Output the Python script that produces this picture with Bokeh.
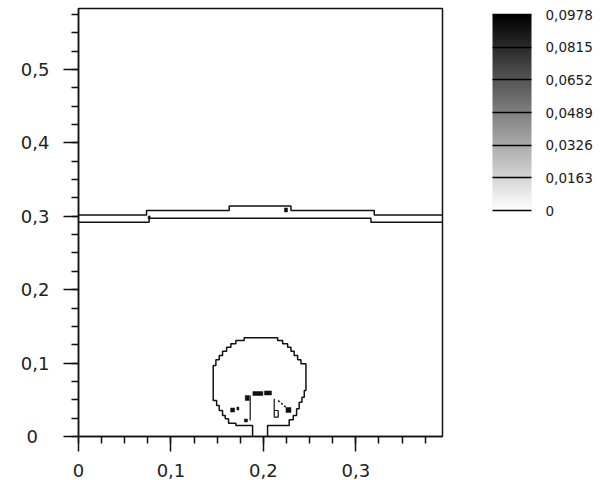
from bokeh.plotting import figure
from bokeh.models import (Range1d, SingleIntervalTicker, FixedTicker,
                          CustomJSTickFormatter, ColorBar, LinearColorMapper)
from bokeh.palettes import Greys256
from bokeh.embed import file_html
from bokeh.resources import INLINE

# colour scale levels (contour values)
levels = [0, 0.0163, 0.0326, 0.0489, 0.0652, 0.0815, 0.0978]

# extent of the computational domain
domain_x = 0.3937
domain_y = 0.583

# contour lines bounding the thin layer near y = 0.3
layer_top_x = [0, 0.0736, 0.0736, 0.1630, 0.1630, 0.2298, 0.2298, 0.3199, 0.3199, 0.3937]
layer_top_y = [0.3018, 0.3018, 0.3079, 0.3079, 0.3140, 0.3140, 0.3079, 0.3079, 0.3018, 0.3018]
layer_bot_x = [0, 0.0764, 0.0764, 0.3163, 0.3163, 0.3937]
layer_bot_y = [0.2920, 0.2920, 0.2974, 0.2974, 0.2920, 0.2920]

# outer contour of the bubble rising from the inlet
bubble = [
    (0.1883, 0.0), (0.1883, 0.0150), (0.1702, 0.0150), (0.1702, 0.0181),
    (0.1623, 0.0181), (0.1623, 0.0241), (0.1587, 0.0241), (0.1587, 0.0286),
    (0.1558, 0.0286), (0.1558, 0.0354), (0.1522, 0.0354), (0.1522, 0.0422),
    (0.1494, 0.0422), (0.1494, 0.0490), (0.1457, 0.0490), (0.1457, 0.0967),
    (0.1486, 0.0967), (0.1486, 0.1045), (0.1522, 0.1045), (0.1522, 0.1104),
    (0.1558, 0.1104), (0.1558, 0.1162), (0.1602, 0.1162), (0.1602, 0.1217),
    (0.1648, 0.1217), (0.1648, 0.1263), (0.1702, 0.1263), (0.1702, 0.1308),
    (0.1792, 0.1308), (0.1792, 0.1345), (0.2154, 0.1345), (0.2154, 0.1308),
    (0.2208, 0.1308), (0.2208, 0.1263), (0.2262, 0.1263), (0.2262, 0.1217),
    (0.2298, 0.1217), (0.2298, 0.1162), (0.2333, 0.1162), (0.2333, 0.1104),
    (0.2370, 0.1104), (0.2370, 0.1045), (0.2406, 0.1045), (0.2406, 0.0990),
    (0.2460, 0.0990), (0.2460, 0.0627), (0.2442, 0.0627), (0.2442, 0.0535),
    (0.2417, 0.0535), (0.2417, 0.0467), (0.2387, 0.0467), (0.2387, 0.0377),
    (0.2359, 0.0377), (0.2359, 0.0286), (0.2323, 0.0286), (0.2323, 0.0228),
    (0.2279, 0.0228), (0.2279, 0.0150), (0.2045, 0.0150), (0.2045, 0.0),
]

# short contour fragments inside the bubble
frag_xs = [[0.1857, 0.1857], [0.2117, 0.2117], [0.2117, 0.2160, 0.2160, 0.2117]]
frag_ys = [[0.0218, 0.0559], [0.0514, 0.0263], [0.0354, 0.0354, 0.0263, 0.0263]]
frag_diag_x = [0.2160, 0.2262]
frag_diag_y = [0.0490, 0.0377]

# small closed contours at the higher levels (centre, width, height)
blob_x = [0.1940, 0.2049, 0.1825, 0.1667, 0.1724, 0.1811, 0.2271, 0.0764, 0.2244]
blob_y = [0.0586, 0.0593, 0.0525, 0.0361, 0.0381, 0.0218, 0.0361, 0.2984, 0.3086]
blob_w = [0.0108, 0.0076, 0.0043, 0.0043, 0.0022, 0.0033, 0.0054, 0.0022, 0.0033]
blob_h = [0.0055, 0.0055, 0.0068, 0.0055, 0.0041, 0.0041, 0.0068, 0.0041, 0.0054]

INK = "#111111"
FONT = "DejaVu Sans"

p = figure(width=600, height=486,
           x_range=Range1d(0, domain_x), y_range=Range1d(0, domain_y),
           output_backend="svg", toolbar_location=None,
           min_border_left=78, min_border_right=158,
           min_border_top=8, min_border_bottom=50)
p.outline_line_color = INK
p.outline_line_width = 1.5
p.background_fill_color = "white"
p.border_fill_color = "white"
p.xgrid.visible = False
p.ygrid.visible = False

p.xaxis.ticker = SingleIntervalTicker(interval=0.1, num_minor_ticks=4)
p.yaxis.ticker = SingleIntervalTicker(interval=0.1, num_minor_ticks=4)
p.xaxis.formatter = CustomJSTickFormatter(
    code="return Math.abs(tick) < 1e-9 ? '0' : tick.toFixed(1).replace('.', ',');")
p.yaxis.formatter = CustomJSTickFormatter(
    code="return Math.abs(tick) < 1e-9 ? '0\\u00a0\\u00a0' : tick.toFixed(1).replace('.', ',');")

for ax in (p.xaxis[0], p.yaxis[0]):
    ax.axis_line_color = INK
    ax.axis_line_width = 1.5
    ax.major_tick_line_color = INK
    ax.major_tick_line_width = 1.5
    ax.minor_tick_line_color = INK
    ax.minor_tick_line_width = 1.5
    ax.major_tick_in = 0
    ax.minor_tick_in = 0
    ax.major_tick_out = 15
    ax.minor_tick_out = 7
    ax.major_label_text_font = FONT
    ax.major_label_text_font_size = "18px"
    ax.major_label_text_color = "#222222"
p.xaxis.major_label_standoff = 12
p.yaxis.major_label_standoff = 14

# contour lines
p.line(layer_top_x, layer_top_y, line_color=INK, line_width=1.5)
p.line(layer_bot_x, layer_bot_y, line_color=INK, line_width=1.5)
p.line([pt[0] for pt in bubble], [pt[1] for pt in bubble], line_color=INK, line_width=1.5)
p.multi_line(frag_xs, frag_ys, line_color=INK, line_width=1.2)
p.line(frag_diag_x, frag_diag_y, line_color=INK, line_width=1.5, line_dash="2 2")
p.rect(blob_x, blob_y, width=blob_w, height=blob_h, fill_color=INK, line_color=INK,
       line_width=0.5)

# colour scale with a line at each contour level
mapper = LinearColorMapper(palette=list(Greys256)[::-1], low=levels[0], high=levels[-1])
cbar = ColorBar(color_mapper=mapper,
                ticker=FixedTicker(ticks=levels),
                formatter=CustomJSTickFormatter(
                    code="return Math.abs(tick) < 1e-9 ? '0' : tick.toFixed(4).replace('.', ',');"),
                location=(414, 226), width=39, height=196, padding=0, margin=0,
                bar_line_color=None, border_line_color=None,
                background_fill_color=None,
                major_tick_line_color="black", major_tick_line_width=1.5,
                major_tick_in=39, major_tick_out=0,
                minor_tick_line_color=None,
                label_standoff=14,
                major_label_text_font=FONT,
                major_label_text_font_size="13.5px",
                major_label_text_color="#1a1a1a")
p.add_layout(cbar, "center")

open("out.html", "w").write(file_html(p, INLINE))
